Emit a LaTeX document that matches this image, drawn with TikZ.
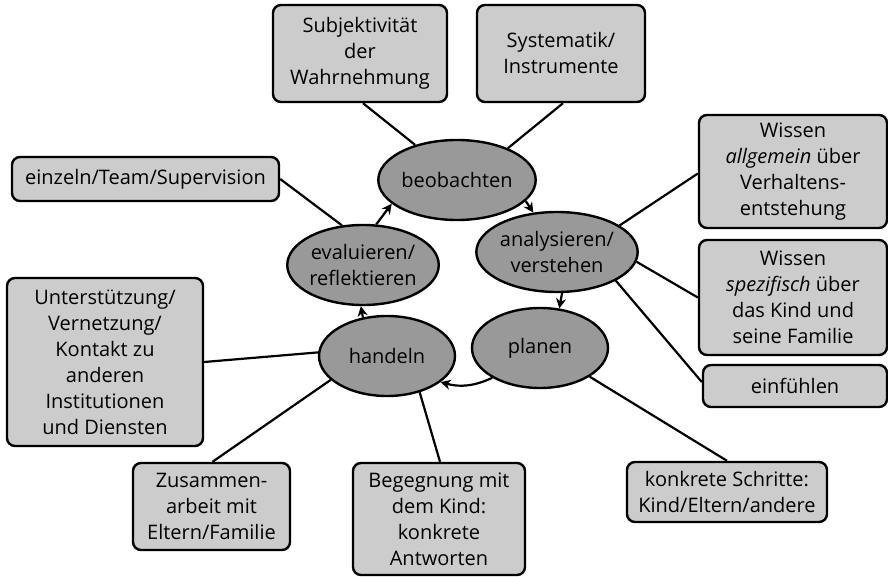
\documentclass[tikz,border=0pt]{standalone}
\usepackage{fontspec}
\setmainfont{Open Sans}
\usetikzlibrary{shapes.geometric,arrows.meta}
\begin{document}
\begin{tikzpicture}[x=1pt,y=-1pt,
  every node/.style={font=\fontsize{20}{26}\selectfont, inner sep=0pt, align=center},
  infobox/.style={draw, line width=2.4pt, rounded corners=8pt, fill=black!20},
  phase/.style={draw, line width=2.4pt, ellipse, fill=black!40, minimum width=136pt, minimum height=80pt},
  link/.style={line width=2.2pt},
  flow/.style={line width=2.2pt, -{Stealth[length=10pt,width=10pt]}}]
\useasboundingbox (0,0) rectangle (888,577);

% cycle phases
\node[phase] (beo) at (457,180) {beobachten};
\node[phase] (ana) at (557,252) {analysieren/\\verstehen};
\node[phase] (pla) at (540,348) {planen};
\node[phase] (han) at (387,356) {handeln};
\node[phase] (eva) at (363,265) {evaluieren/\\reflektieren};

% surrounding aspects
\node[infobox, minimum width=174pt, minimum height=97pt] (sub) at (360,53.5) {Subjektivität\\der\\Wahrnehmung};
\node[infobox, minimum width=168pt, minimum height=97pt] (sys) at (561,53.5) {Systematik/\\Instrumente};
\node[infobox, minimum width=188pt, minimum height=113pt] (wa) at (793,171.5) {Wissen\\\textit{allgemein} über\\Verhaltens-\\entstehung};
\node[infobox, minimum width=188pt, minimum height=115pt] (ws) at (793,297.5) {Wissen\\\textit{spezifisch} über\\das Kind und\\seine Familie};
\node[infobox, minimum width=184pt, minimum height=42pt] (ein) at (795,386) {einfühlen};
\node[infobox, minimum width=267pt, minimum height=44pt] (ezt) at (145.5,179) {einzeln/Team/Supervision};
\node[infobox, minimum width=196pt, minimum height=168pt] (unt) at (105,362) {Unterstützung/\\Vernetzung/\\Kontakt zu\\anderen\\Institutionen\\und Diensten};
\node[infobox, minimum width=157pt, minimum height=87pt] (zus) at (211.5,506.5) {Zusammen-\\arbeit mit\\Eltern/Familie};
\node[infobox, minimum width=172pt, minimum height=112pt] (beg) at (439,519) {Begegnung mit\\dem Kind:\\konkrete\\Antworten};
\node[infobox, minimum width=200pt, minimum height=60pt] (kon) at (727,492) {konkrete Schritte:\\Kind/Eltern/andere};

% plain connectors
\draw[link] ([xshift=3pt]sub.south) -- (beo.140);
\draw[link] ([xshift=2pt]sys.south) -- (beo.32);
\draw[link] ([yshift=-2pt]wa.west) -- (ana.23);
\draw[link] (ws.west) -- (ana.353);
\draw[link] ([yshift=4pt]ein.west) -- (ana.334);
\draw[link] (ezt.east) -- (eva.118);
\draw[link] (unt.east) -- (han.177);
\draw[link] ([xshift=1pt]zus.north) -- (han.203);
\draw[link] ([xshift=1pt]beg.north) -- (han.312);
\draw[link] (kon.north) -- (pla.330);

% cycle arrows
\draw[flow] (beo.343) -- (ana.121);
\draw[flow] (ana.277) -- (pla.64);
\draw[flow] (pla.212) to[bend left=20] (han.334);
\draw[flow] (han.122) -- (eva.267);
\draw[flow] (eva.72) -- (beo.200);
\end{tikzpicture}
\end{document}
